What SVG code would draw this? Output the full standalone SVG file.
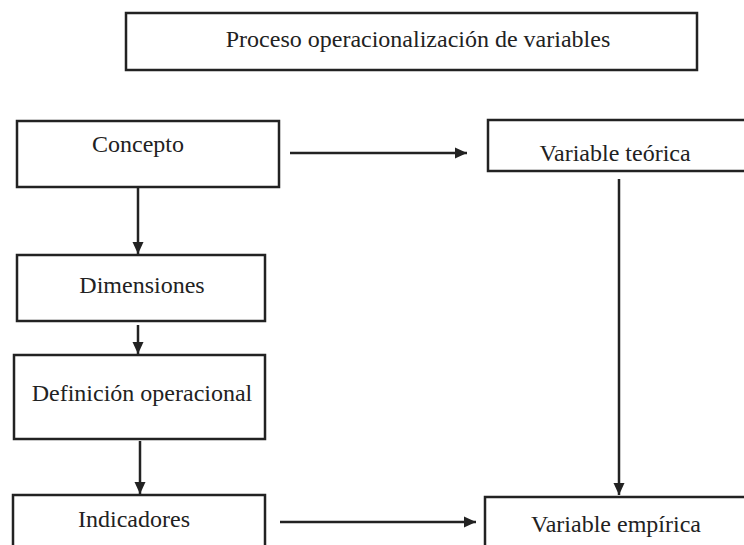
<svg xmlns="http://www.w3.org/2000/svg" width="744" height="545" viewBox="0 0 744 545">
<defs>
<style>
.box{fill:#fff;stroke:#222;stroke-width:2.5}
.lbl{font-family:"Liberation Serif","Times New Roman",serif;font-size:24px;fill:#222;text-anchor:middle}
.con{stroke:#222;stroke-width:2.5;fill:none}
</style>
<marker id="ah" markerUnits="userSpaceOnUse" markerWidth="14" markerHeight="14" viewBox="0 0 14 14" refX="13" refY="7" orient="auto">
<path d="M1,1.5 L13,7 L1,12.5 Z" fill="#222"/>
</marker>
</defs>
<rect width="744" height="545" fill="#fff"/>
<g id="title"><rect class="box" x="126" y="13" width="571" height="57"/><text class="lbl" x="418" y="47">Proceso operacionalización de variables</text></g>
<g id="concepto"><rect class="box" x="17" y="121" width="262" height="66"/><text class="lbl" x="138" y="152">Concepto</text></g>
<g id="dimensiones"><rect class="box" x="17" y="255" width="248" height="66"/><text class="lbl" x="142" y="293">Dimensiones</text></g>
<g id="definicion"><rect class="box" x="14" y="355" width="251" height="84"/><text class="lbl" x="142" y="401">Definición operacional</text></g>
<g id="indicadores"><rect class="box" x="13" y="495" width="252" height="70"/><text class="lbl" x="134" y="527">Indicadores</text></g>
<g id="teorica"><rect class="box" x="488" y="120" width="280" height="51"/><text class="lbl" x="615" y="161">Variable teórica</text></g>
<g id="empirica"><rect class="box" x="485" y="497" width="280" height="70"/><text class="lbl" x="616" y="532">Variable empírica</text></g>
<g id="connectors">
<line class="con" x1="138" y1="188" x2="138" y2="254" marker-end="url(#ah)"/>
<line class="con" x1="138" y1="325" x2="138" y2="354" marker-end="url(#ah)"/>
<line class="con" x1="140" y1="441" x2="140" y2="494" marker-end="url(#ah)"/>
<line class="con" x1="290" y1="153" x2="467" y2="153" marker-end="url(#ah)"/>
<line class="con" x1="619" y1="179" x2="619" y2="495" marker-end="url(#ah)"/>
<line class="con" x1="280" y1="522" x2="476" y2="522" marker-end="url(#ah)"/>
</g>
</svg>
